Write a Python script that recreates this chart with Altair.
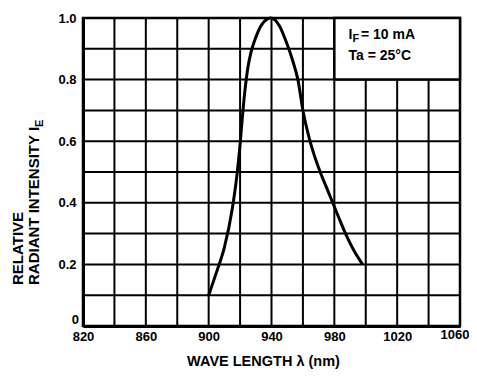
import altair as alt
import pandas as pd

# Curve
wavelength = [900, 905, 910, 915, 918, 920, 921.5, 923, 925, 927, 929.5, 934, 939.5,
              945, 949.5, 953.7, 956.8, 960, 964, 967.5, 971, 975, 979, 983, 988, 993, 998]
intensity = [0.10, 0.175, 0.255, 0.38, 0.49, 0.59, 0.68, 0.76, 0.84, 0.89, 0.93, 0.98, 1.0,
             0.975, 0.921, 0.858, 0.80, 0.70, 0.61, 0.55, 0.50, 0.45, 0.40, 0.35, 0.29, 0.24, 0.20]

x_ticks = list(range(820, 1061, 20))
y_ticks = [0, 0.1, 0.2, 0.3, 0.4, 0.5, 0.6, 0.7, 0.8, 0.9, 1.0]
last_x_label = ["1060"]
zero_y_label = ["0"]

# Condition box (upper right)
box_x = [980]
box_x2 = [1060]
box_y = [0.8]
box_y2 = [1.0]

FONT = "Liberation Sans"

curve_df = pd.DataFrame({"wl": wavelength, "ie": intensity})
box_df = pd.DataFrame({"wl": box_x, "wl2": box_x2, "ie": box_y, "ie2": box_y2})

xaxis = alt.Axis(
    values=x_ticks, format="d",
    labelExpr="(datum.value % 40 == 0 || datum.value == 1060) ? '' : datum.label",
    grid=False, tickSize=0, domainColor="black", domainWidth=3,
    labelFont=FONT, labelFontSize=13, labelFontWeight="bold", labelColor="black",
    labelPadding=4, labelFlush=False, labelOverlap=False,
    title="WAVE LENGTH λ (nm)", titleFont=FONT, titleFontSize=14.5,
    titleFontWeight="bold", titleColor="black", titlePadding=11, titleX=180,
)
yaxis = alt.Axis(
    values=y_ticks,
    labelExpr="(round(datum.value*10) % 2 == 1 || datum.value == 0) ? '' : format(datum.value, '.1f')",
    grid=False, tickSize=0, domainColor="black", domainWidth=3,
    labelFont=FONT, labelFontSize=13, labelFontWeight="bold", labelColor="black",
    labelPadding=7, labelFlush=False, labelOverlap=False,
    title=None,
)
xscale = alt.Scale(domain=[820, 1060], nice=False, zero=False)
yscale = alt.Scale(domain=[0, 1.0], nice=False)

def X(field="wl"):
    return alt.X(f"{field}:Q", scale=xscale, axis=xaxis)

def Y(field="ie"):
    return alt.Y(f"{field}:Q", scale=yscale, axis=yaxis)

vgrid = alt.Chart(pd.DataFrame({"wl": x_ticks})).mark_rule(
    color="black", strokeWidth=2).encode(x=X())
hgrid = alt.Chart(pd.DataFrame({"ie": y_ticks})).mark_rule(
    color="black", strokeWidth=2).encode(y=Y())

line = alt.Chart(curve_df).mark_line(
    color="black", strokeWidth=3, interpolate="monotone").encode(x=X(), y=Y())

box = alt.Chart(box_df).mark_rect(fill="white", stroke="black", strokeWidth=2.5).encode(
    x=X(), x2="wl2:Q", y=Y(), y2="ie2:Q"
)

# last x tick label, nudged left so it stays inside the page
lastlab = alt.Chart(pd.DataFrame({"wl": [1060], "ie": [0], "t": last_x_label})).mark_text(
    align="center", baseline="top", font=FONT, fontWeight="bold", fontSize=13,
    color="black", dx=-5, dy=3,
).encode(x=X(), y=Y(), text="t:N")

# the "0" of the y axis sits a little above the corner
zerolab = alt.Chart(pd.DataFrame({"wl": [820], "ie": [0], "t": zero_y_label})).mark_text(
    align="right", baseline="alphabetic", font=FONT, fontWeight="bold", fontSize=13,
    color="black", dx=-4, dy=-2,
).encode(x=X(), y=Y(), text="t:N")

ann_df = pd.DataFrame({
    "wl": [989, 989, 989, 989],
    "ie": [0.932, 0.932, 0.932, 0.864],
    "t": ["I", "F", "= 10 mA", "Ta = 25°C"],
    "dx": [0, 4, 12.5, 0],
    "dy": [0, 3, 0, 0],
    "fs": [14, 11, 14, 14],
})

def ann(i):
    r = ann_df.iloc[[i]]
    return alt.Chart(r).mark_text(
        align="left", baseline="alphabetic", font=FONT, fontWeight="bold",
        fontSize=float(r["fs"].iloc[0]), dx=float(r["dx"].iloc[0]), dy=float(r["dy"].iloc[0]),
        color="black",
    ).encode(x=X(), y=Y(), text="t:N")

def ytitle(txt, px, py, fs):
    return alt.Chart(pd.DataFrame({"t": [txt]})).mark_text(
        angle=270, align="left", baseline="middle", font=FONT, fontWeight="bold",
        fontSize=fs, color="black"
    ).encode(x=alt.value(px), y=alt.value(py), text="t:N")

yt1 = ytitle("RELATIVE", -65, 267, 15)
yt2 = ytitle("RADIANT INTENSITY I", -49, 267, 15)
yt3 = ytitle("E", -43, 109, 11)

chart = alt.layer(
    vgrid, hgrid, line, box, lastlab, zerolab, ann(0), ann(1), ann(2), ann(3), yt1, yt2, yt3
).properties(
    width=377, height=308,
    autosize=alt.AutoSizeParams(type="none"),
    padding={"left": 75, "top": 10, "right": 9, "bottom": 45},
    background="white",
).configure_view(stroke="black", strokeWidth=2.5)

chart.save("out.html", embed_options={"renderer": "svg", "actions": False})
